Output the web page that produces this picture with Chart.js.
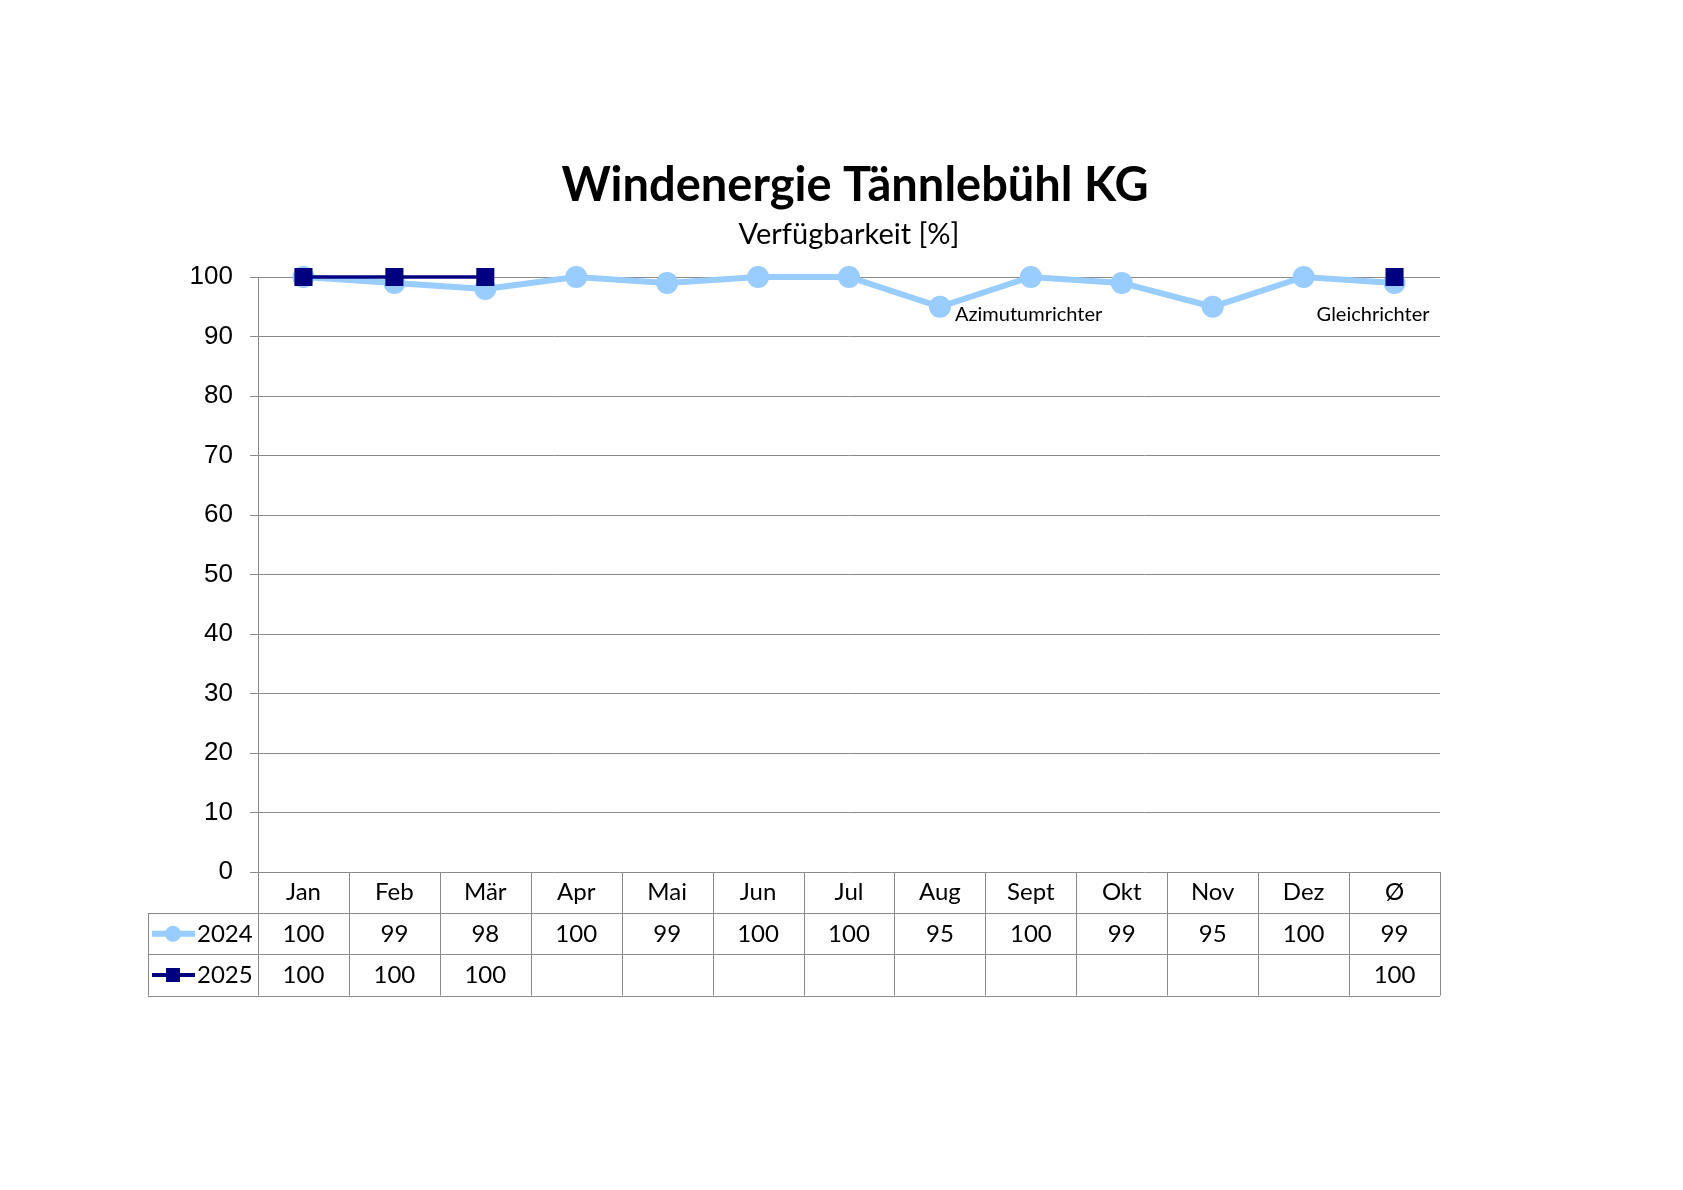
<!DOCTYPE html>
<html><head><meta charset="utf-8">
<script src="https://cdn.jsdelivr.net/npm/chart.js@4/dist/chart.umd.min.js"></script>
<style>html,body{margin:0;padding:0;background:#fff}canvas{display:block}</style>
</head><body>
<canvas id="c" width="1683" height="1190"></canvas>
<script>
const categories = ['Jan','Feb','Mär','Apr','Mai','Jun','Jul','Aug','Sept','Okt','Nov','Dez','Ø'];
const values2024 = [100,99,98,100,99,100,100,95,100,99,95,100,99];
const values2025 = [100,100,100,null,null,null,null,null,null,null,null,null,100];
const seriesNames = ['2024','2025'];
const yMin = 0, yMax = 100, yStep = 10;
const titleText = 'Windenergie Tännlebühl KG';
const subtitleText = 'Verfügbarkeit [%]';
const noteIndex = [7, 12];
const noteText = ['Azimutumrichter', 'Gleichrichter'];

const LIGHT = '#99CCFF', NAVY = '#000080', GRID = '#8a8a8a';
const TXT = 'Lato, "Open Sans", sans-serif';

const tablePlugin = {
  id: 'tablePlugin',
  afterDraw(chart) {
    const ctx = chart.ctx, x = chart.scales.x, y = chart.scales.y, a = chart.chartArea;
    const n = categories.length, colW = (a.right - a.left) / n, rowH = 41.2;
    const leftX = 148;
    ctx.save();
    // title & subtitle
    ctx.fillStyle = '#000';
    ctx.textAlign = 'center'; ctx.textBaseline = 'middle';
    ctx.font = 'bold 47px ' + TXT;
    ctx.fillText(titleText, 855, 186);
    ctx.font = '29px ' + TXT;
    ctx.fillText(subtitleText, 849, 235);
    // notes
    ctx.font = '20px ' + TXT;
    const yNote = y.getPixelForValue(95) + 8;
    noteIndex.forEach((idx, k) => {
      const px = x.getPixelForValue(idx);
      if (k === 0) { ctx.textAlign = 'left'; ctx.fillText(noteText[k], px + 15, yNote); }
      else { ctx.textAlign = 'right'; ctx.fillText(noteText[k], px + 35, yNote); }
    });
    // table lines
    ctx.strokeStyle = GRID; ctx.lineWidth = 1;
    const top = a.bottom;
    ctx.beginPath();
    for (let r = 1; r <= 3; r++) {
      const yy = Math.round(top + r * rowH) + 0.5;
      ctx.moveTo(leftX, yy); ctx.lineTo(a.right, yy);
    }
    for (let i = 0; i <= n; i++) {
      const xx = Math.round(a.left + i * colW) + 0.5;
      ctx.moveTo(xx, top); ctx.lineTo(xx, top + 3 * rowH);
    }
    ctx.moveTo(leftX + 0.5, top + rowH); ctx.lineTo(leftX + 0.5, top + 3 * rowH);
    ctx.stroke();
    // texts
    ctx.fillStyle = '#000'; ctx.textAlign = 'center'; ctx.textBaseline = 'middle';
    ctx.font = '24px ' + TXT;
    const rows = [values2024, values2025];
    categories.forEach((c, i) => {
      const px = x.getPixelForValue(i);
      ctx.fillText(c, px, top + rowH * 0.5);
      rows.forEach((vals, r) => {
        if (vals[i] !== null) ctx.fillText(String(vals[i]), px, top + rowH * (1.5 + r));
      });
    });
    // legend keys
    const colors = [LIGHT, NAVY], widths = [6, 4];
    seriesNames.forEach((s, r) => {
      const cy = top + rowH * (1.5 + r);
      ctx.strokeStyle = colors[r]; ctx.lineWidth = widths[r];
      ctx.beginPath(); ctx.moveTo(152, cy); ctx.lineTo(195, cy); ctx.stroke();
      ctx.fillStyle = colors[r];
      if (r === 0) { ctx.beginPath(); ctx.arc(173, cy, 8, 0, Math.PI * 2); ctx.fill(); }
      else { ctx.fillRect(166, cy - 7, 14, 14); }
      ctx.fillStyle = '#000'; ctx.textAlign = 'left';
      ctx.fillText(s, 197, cy);
    });
    ctx.restore();
  }
};

new Chart(document.getElementById('c'), {
  type: 'line',
  data: {
    labels: categories,
    datasets: [
      { label: seriesNames[0], data: values2024, borderColor: LIGHT, backgroundColor: LIGHT, order: 1,
        borderWidth: 6, pointRadius: 8, pointHoverRadius: 8, pointStyle: 'circle', clip: false, tension: 0 },
      { label: seriesNames[1], data: values2025, borderColor: NAVY, backgroundColor: NAVY, order: 0,
        borderWidth: 3.5, pointRadius: 10.3, pointHoverRadius: 10.3, pointStyle: 'rect', clip: false, spanGaps: false, tension: 0 }
    ]
  },
  options: {
    responsive: false, animation: false,
    layout: { padding: { left: 0, right: 243, top: 277, bottom: 318 } },
    plugins: { legend: { display: false }, title: { display: false }, tooltip: { enabled: false } },
    scales: {
      x: { type: 'category', offset: true, display: false },
      y: {
        min: yMin, max: yMax,
        afterFit(s) { s.width = 258; },
        ticks: { stepSize: yStep, padding: 17, color: '#000', font: { family: '"Liberation Sans", Arial, sans-serif', size: 26 } },
        grid: { color: GRID, tickLength: 8, lineWidth: 1 },
        border: { color: GRID, width: 1 }
      }
    }
  },
  plugins: [tablePlugin]
});
</script>
</body></html>
